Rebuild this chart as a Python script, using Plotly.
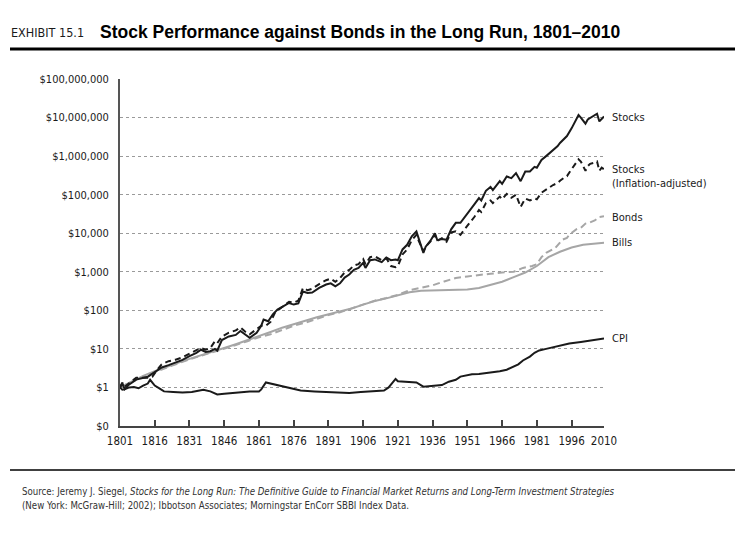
import math
import plotly.graph_objects as go

# ---------------- data ----------------
stock_years = [1801, 1802, 1803, 1805, 1808, 1813, 1816, 1819, 1822, 1825, 1828, 1831, 1834, 1836,
               1838, 1840, 1842, 1843, 1845, 1848, 1851, 1853, 1855, 1857, 1860, 1862, 1863, 1865,
               1867, 1869, 1872, 1874, 1876, 1878, 1880, 1882, 1884, 1887, 1890, 1892, 1894, 1896,
               1898, 1900, 1902, 1904, 1906, 1907, 1909, 1911, 1914, 1916, 1918, 1920, 1921, 1923,
               1925, 1927, 1929, 1930, 1932, 1933, 1935, 1937, 1938, 1940, 1942, 1944, 1946, 1948,
               1950, 1952, 1954, 1956, 1957, 1959, 1961, 1962, 1965, 1966, 1968, 1970, 1972, 1974,
               1976, 1978, 1980, 1981, 1983, 1985, 1987, 1988, 1990, 1991, 1993, 1994, 1996, 1998,
               1999, 2000, 2001, 2002, 2003, 2004, 2006, 2007, 2008, 2009, 2010]
stocks = [1.0, 1.3, 0.9, 1.2, 1.6, 1.9, 2.5, 3.3, 3.8, 4.5, 5.2, 6.5, 7.9, 9.5,
          8.3, 8.7, 10, 9, 17, 21, 23, 29, 24, 19.5, 26, 40, 58, 52,
          79, 105, 132, 155, 141, 151, 309, 282, 288, 380, 468, 501, 417, 501,
          708, 851, 1120, 1260, 1700, 1260, 2000, 2090, 1780, 2340, 2000, 2090, 2000, 3800,
          5010, 8320, 11200, 7080, 3090, 4470, 6310, 10000, 6610, 7080, 6760, 12600, 18600, 18600,
          26300, 39800, 56200, 81300, 70800, 126000, 158000, 132000, 224000, 191000, 295000, 269000, 363000, 224000,
          398000, 398000, 525000, 501000, 794000, 1000000, 1260000, 1480000, 1820000, 2190000, 2820000, 3310000, 5250000, 8910000,
          11700000, 10000000, 8510000, 6920000, 8910000, 9770000, 11200000, 12600000, 7940000, 9330000, 10700000]

real_years = [1801, 1802, 1803, 1805, 1808, 1813, 1815, 1817, 1819, 1822, 1825, 1828, 1831, 1834,
              1836, 1838, 1840, 1842, 1843, 1845, 1848, 1851, 1853, 1855, 1857, 1860, 1862, 1864,
              1866, 1868, 1870, 1872, 1874, 1876, 1878, 1880, 1882, 1884, 1887, 1890, 1892, 1894,
              1896, 1898, 1900, 1902, 1904, 1906, 1907, 1909, 1911, 1914, 1916, 1918, 1920, 1921,
              1923, 1925, 1927, 1929, 1930, 1932, 1933, 1935, 1937, 1938, 1940, 1942, 1944, 1946,
              1948, 1950, 1952, 1954, 1956, 1957, 1959, 1961, 1962, 1965, 1966, 1968, 1970, 1972,
              1974, 1976, 1978, 1980, 1981, 1983, 1985, 1987, 1988, 1990, 1991, 1993, 1994, 1996,
              1998, 1999, 2000, 2001, 2002, 2003, 2004, 2006, 2007, 2008, 2009, 2010]
stocks_real = [1.0, 1.32, 1.05, 1.32, 1.78, 1.78, 1.91, 2.82, 3.98, 4.79, 5.25, 6.03, 7.59, 9.33,
               10.5, 9.55, 10.5, 15.8, 14.1, 20.9, 26.3, 30.2, 36.3, 28.2, 24.0, 33.1, 39.8, 39.8,
               50.1, 89.1, 112, 135, 166, 158, 178, 380, 331, 363, 479, 603, 661, 550,
               692, 955, 1120, 1450, 1580, 2140, 1580, 2400, 2510, 2000, 2240, 1410, 1320, 1410,
               2820, 3800, 6610, 9120, 6310, 3390, 4470, 6030, 9120, 6310, 7410, 6030, 10500, 11200,
               9120, 12600, 18600, 26300, 39800, 35500, 60300, 70800, 60300, 89100, 75900, 105000, 83200, 100000,
               47900, 79400, 70800, 79400, 75900, 112000, 135000, 158000, 178000, 200000, 229000, 282000, 302000, 457000,
               708000, 832000, 724000, 562000, 417000, 550000, 631000, 676000, 724000, 417000, 501000, 457000]

bond_years = [1801, 1806, 1811, 1816, 1821, 1826, 1831, 1836, 1841, 1846, 1851, 1856, 1861, 1866,
              1871, 1876, 1881, 1886, 1891, 1896, 1901, 1906, 1911, 1916, 1921, 1926, 1931, 1936,
              1941, 1946, 1951, 1956, 1961, 1966, 1971, 1975, 1979, 1981, 1983, 1985, 1987, 1989,
              1992, 1994, 1995, 1998, 2000, 2002, 2004, 2006, 2008, 2010]
bonds = [1.0, 1.41, 1.91, 2.51, 3.31, 4.17, 5.37, 6.61, 7.94, 10.0, 12.6, 15.8, 20.0, 24.0,
         31.6, 39.8, 47.9, 60.3, 75.9, 89.1, 112, 141, 178, 209, 251, 331, 380, 447,
         562, 692, 759, 832, 891, 955, 1000, 1260, 1410, 1580, 2400, 3090, 3550, 4170,
         6760, 7590, 9120, 12600, 13800, 17800, 19100, 21400, 26300, 27500]

bill_years = [1801, 1806, 1811, 1816, 1821, 1826, 1831, 1836, 1841, 1846, 1851, 1856, 1861, 1866,
              1871, 1876, 1881, 1886, 1891, 1896, 1901, 1906, 1911, 1916, 1921, 1926, 1931, 1936,
              1941, 1946, 1951, 1956, 1961, 1966, 1971, 1976, 1981, 1986, 1991, 1996, 2001, 2006, 2010]
bills = [1.0, 1.45, 2.0, 2.63, 3.47, 4.37, 5.5, 6.76, 8.32, 10.5, 13.2, 16.6, 20.9, 27.5,
         35.5, 44.7, 53.7, 66.1, 79.4, 93.3, 112, 141, 174, 204, 245, 295, 324, 331,
         331, 331, 347, 380, 447, 550, 724, 955, 1410, 2400, 3310, 4270, 5010, 5370, 5620]

cpi_years = [1801, 1802, 1803, 1805, 1807, 1809, 1811, 1813, 1814, 1815, 1816, 1818, 1820, 1824,
             1828, 1832, 1835, 1837, 1840, 1843, 1846, 1850, 1853, 1857, 1861, 1862, 1864, 1866,
             1870, 1875, 1879, 1885, 1890, 1896, 1900, 1905, 1910, 1915, 1917, 1919, 1920, 1921,
             1925, 1929, 1932, 1935, 1940, 1943, 1946, 1948, 1950, 1953, 1956, 1960, 1965, 1968,
             1970, 1973, 1975, 1978, 1980, 1982, 1985, 1990, 1995, 2000, 2005, 2010]
cpi = [1.0, 0.87, 0.89, 1.0, 1.02, 0.95, 1.12, 1.26, 1.58, 1.32, 1.12, 0.95, 0.79, 0.76,
       0.74, 0.76, 0.83, 0.87, 0.79, 0.66, 0.69, 0.72, 0.76, 0.79, 0.79, 0.89, 1.35, 1.26,
       1.12, 0.95, 0.83, 0.79, 0.76, 0.72, 0.72, 0.76, 0.81, 0.83, 1.0, 1.41, 1.66, 1.45,
       1.38, 1.35, 1.05, 1.1, 1.15, 1.41, 1.58, 1.91, 2.0, 2.19, 2.24, 2.4, 2.63, 2.88,
       3.31, 3.98, 5.01, 6.31, 7.94, 9.12, 10.0, 12.0, 13.8, 15.1, 17.0, 18.6]

x_ticks = [1801, 1816, 1831, 1846, 1861, 1876, 1891, 1906, 1921, 1936, 1951, 1966, 1981, 1996, 2010]
y_tickvals = [0.1, 1, 10, 100, 1000, 10000, 100000, 1000000, 10000000, 100000000]
y_ticktext = ["$0", "$1", "$10", "$100", "$1,000", "$10,000", "$100,000",
              "$1,000,000", "$10,000,000", "$100,000,000"]

# label text and the value level where each label sits
series_labels = ["Stocks", "Stocks<br>(Inflation-adjusted)", "Bonds", "Bills", "CPI"]
label_levels = [1.0e7, 3.0e5, 2.5e4, 5.8e3, 18.6]

# ---------------- layout geometry ----------------
OFF = 8                      # page body margin of the html output
W, H = 743 - OFF, 536 - OFF  # figure size so that it fits the window
L, T = 120 - OFF, 79 - OFF   # plot area top-left on the page minus offset
R = W - (604 - OFF)
B = H - (426 - OFF)
PW, PH = W - L - R, H - T - B

def px(x):   # page pixel x -> paper
    return (x - OFF - L) / PW

def py(y):   # page pixel y -> paper
    return (H - B - (y - OFF)) / PH

NARROW = "DejaVu Sans Condensed, Liberation Sans Narrow, Arial Narrow, sans-serif"
BOLD = "Liberation Sans, Arial, Helvetica, sans-serif"
GRAY = "#a6a6a6"
INK = "#1a1a1a"

fig = go.Figure()
fig.add_trace(go.Scatter(x=bill_years, y=bills, mode="lines",
                         line=dict(color=GRAY, width=2), name="Bills"))
fig.add_trace(go.Scatter(x=bond_years, y=bonds, mode="lines",
                         line=dict(color=GRAY, width=2, dash="7px,4px"), name="Bonds"))
fig.add_trace(go.Scatter(x=cpi_years, y=cpi, mode="lines",
                         line=dict(color=INK, width=2), name="CPI"))
fig.add_trace(go.Scatter(x=real_years, y=stocks_real, mode="lines",
                         line=dict(color=INK, width=2, dash="6px,4px"), name="Stocks (Inflation-adjusted)"))
fig.add_trace(go.Scatter(x=stock_years, y=stocks, mode="lines",
                         line=dict(color=INK, width=2), name="Stocks"))

annotations = []
for txt, lvl in zip(series_labels, label_levels):
    annotations.append(dict(x=1, xref="paper", xshift=6, y=math.log10(lvl), yref="y",
                            text=txt, showarrow=False, xanchor="left", yanchor="middle",
                            align="left", font=dict(family=NARROW, size=11, color=INK)))

annotations.append(dict(x=px(9), y=py(32), xref="paper", yref="paper", text="EXHIBIT 15.1",
                        showarrow=False, xanchor="left", yanchor="middle",
                        font=dict(family=NARROW, size=12.5, color=INK)))
annotations.append(dict(x=px(98), y=py(32), xref="paper", yref="paper",
                        text="<b>Stock Performance against Bonds in the Long Run, 1801–2010</b>",
                        showarrow=False, xanchor="left", yanchor="middle",
                        font=dict(family=BOLD, size=17.5, color="#000")))
annotations.append(dict(x=px(20), y=py(491), xref="paper", yref="paper",
                        text="Source: Jeremy J. Siegel, <i>Stocks for the Long Run: The Definitive Guide to Financial Market Returns and Long-Term Investment Strategies</i>",
                        showarrow=False, xanchor="left", yanchor="middle",
                        font=dict(family=NARROW, size=9.6, color="#333")))
annotations.append(dict(x=px(20), y=py(505), xref="paper", yref="paper",
                        text="(New York: McGraw-Hill; 2002); Ibbotson Associates; Morningstar EnCorr SBBI Index Data.",
                        showarrow=False, xanchor="left", yanchor="middle",
                        font=dict(family=NARROW, size=9.6, color="#333")))

shapes = [
    dict(type="line", xref="paper", yref="paper", x0=px(10), x1=px(735), y0=py(49), y1=py(49),
         line=dict(color="#000", width=3)),
    dict(type="line", xref="paper", yref="paper", x0=px(10), x1=px(735), y0=py(470), y1=py(470),
         line=dict(color="#000", width=1.5)),
]

fig.update_layout(
    width=W, height=H,
    margin=dict(l=L, r=R, t=T, b=B),
    paper_bgcolor="white", plot_bgcolor="white",
    showlegend=False,
    annotations=annotations, shapes=shapes,
    font=dict(family=NARROW, size=11, color=INK),
)
fig.update_xaxes(range=[1801, 2010], tickvals=x_ticks, ticks="inside", ticklen=6,
                 tickcolor="#444", tickwidth=1.5, showline=True, linecolor="#444", linewidth=2,
                 showgrid=False, zeroline=False, ticklabelstandoff=3,
                 tickfont=dict(family=NARROW, size=11.5, color=INK))
fig.update_yaxes(type="log", range=[-1, 8], tickvals=y_tickvals, ticktext=y_ticktext,
                 showline=True, linecolor="#555", linewidth=2, ticks="",
                 showgrid=True, gridcolor="#9a9a9a", griddash="dot", gridwidth=1,
                 zeroline=False, ticklabelstandoff=7,
                 tickfont=dict(family=NARROW, size=11, color=INK))

fig.write_html("out.html")
